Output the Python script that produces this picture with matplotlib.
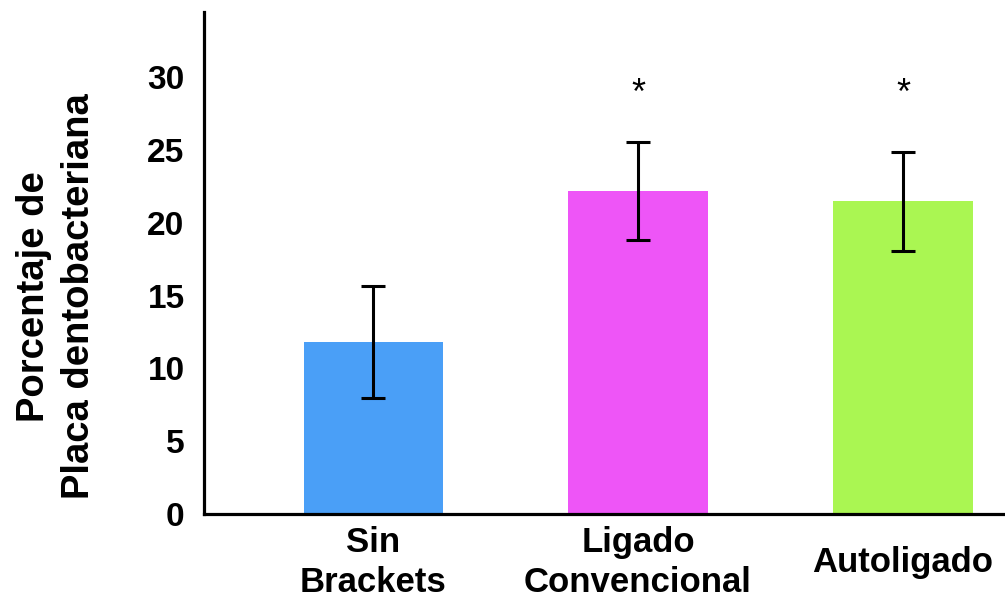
import matplotlib
matplotlib.use("Agg")
import matplotlib.pyplot as plt
import numpy as np

categories = ["Sin\nBrackets", "Ligado\nConvencional", "Autoligado"]
values = [11.8, 22.2, 21.5]
errors = [3.85, 3.4, 3.4]
colors = ["#4a9ff7", "#ee55f7", "#aaf652"]
stars = ["", "*", "*"]
yticks = [0, 5, 10, 15, 20, 25, 30]

plt.rcParams['font.family'] = ['Liberation Sans', 'DejaVu Sans']

fig = plt.figure(figsize=(10.05, 6.03), dpi=100)
ax = fig.add_axes([0.203, 0.1476, 0.797, 0.8325])

x = np.arange(len(categories))
ax.bar(x, values, width=0.525, color=colors, zorder=2)
ax.errorbar(x, values, yerr=errors, fmt='none', ecolor='black',
            elinewidth=2.2, capsize=8.5, capthick=2.2, zorder=3)
for xi, s in zip(x, stars):
    if s:
        ax.text(xi, 28.8, s, ha='center', va='center', fontsize=26)

ax.set_xlim(-0.638, 2.385)
ax.set_ylim(0, 34.5)
ax.set_yticks(yticks)
ax.set_xticks(x)
ax.set_xticklabels(categories, fontsize=25, fontweight='bold', va='center',
                   linespacing=1.24)
ax.tick_params(axis='x', length=0, pad=35)
ax.tick_params(axis='y', length=0, pad=14, labelsize=24)
for lab in ax.get_yticklabels():
    lab.set_fontweight('bold')

for side in ['top', 'right']:
    ax.spines[side].set_visible(False)
for side in ['left', 'bottom']:
    ax.spines[side].set_linewidth(2.3)

ax.set_ylabel("Porcentaje de\nPlaca dentobacteriana", fontsize=27.5,
              fontweight='bold', linespacing=1.3)
ax.yaxis.set_label_coords(-0.134, 0.434)

fig.savefig("out.png", dpi=100)
